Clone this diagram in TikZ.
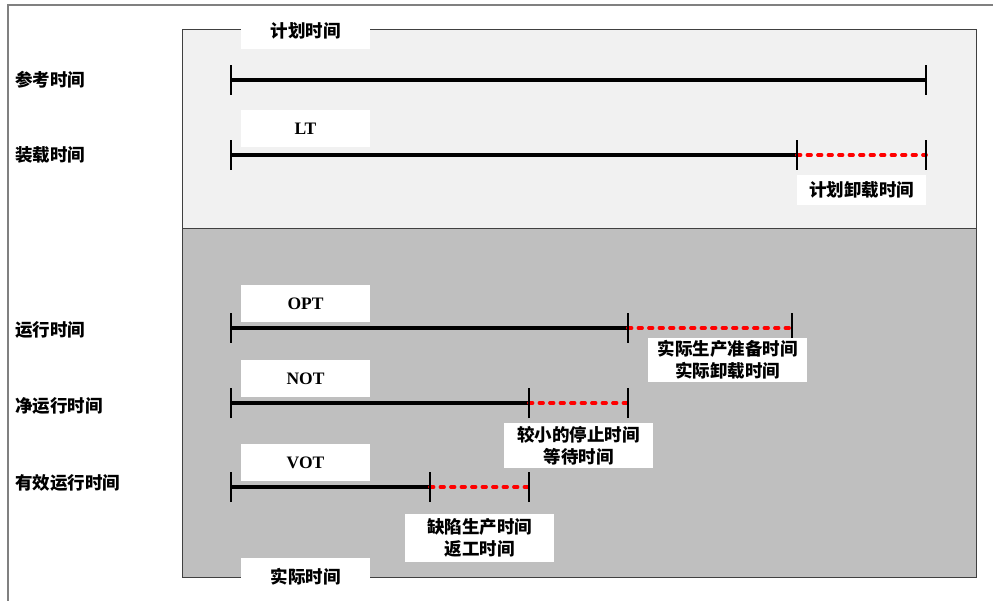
\documentclass[tikz,border=0pt]{standalone}
\usepackage{fontspec}
\setmainfont{Liberation Serif}
\newfontfamily\cjk{Noto Sans CJK SC}
\definecolor{topfill}{HTML}{F1F1F1}
\definecolor{botfill}{HTML}{BFBFBF}
\definecolor{frameline}{HTML}{808080}
\definecolor{boxline}{HTML}{404040}
\begin{document}
\begin{tikzpicture}[x=1pt,y=-1pt,
  cn/.style={font=\cjk\bfseries\fontsize{17.5}{22}\selectfont, inner sep=0pt, align=center},
  rowlbl/.style={cn, anchor=west},
  tagbox/.style={fill=white, inner sep=0pt, minimum width=129pt, minimum height=37pt, font=\bfseries\fontsize{17.5}{20}\selectfont},
  cntag/.style={cn, fill=white, minimum width=129pt, minimum height=37pt},
  notebox/.style={cn, fill=white},
  solidseg/.style={line width=3.8pt, black},
  dashseg/.style={line width=3.8pt, red, dash pattern=on 3.5pt off 7pt, line cap=round},
  tick/.style={line width=2pt, black},
  area/.style={draw=boxline, line width=1pt}
]
\useasboundingbox (0,0) rectangle (993,601);
% outer frame (top and left)
\coordinate (fbl) at (8,601);
\coordinate (ftl) at (8,5);
\coordinate (ftr) at (993,5);
\draw[frameline, line width=1.5pt] (fbl) -- (ftl) -- (ftr);
% areas
\draw[area, fill=topfill] (182,30) rectangle (976,229);
\draw[area, fill=botfill] (182,229) rectangle (976,577);

% tags
\node[cntag] (plan) at (305.5,30.5) {计划时间};
\node[tagbox] (lt) at (305.5,128.5) {LT};
\node[tagbox] (opt) at (305.5,303.5) {OPT};
\node[tagbox] (not) at (305.5,378.5) {NOT};
\node[tagbox] (vot) at (305.5,462.5) {VOT};
\node[cntag] (act) at (305.5,576.5) {实际时间};

% row labels
\node[rowlbl] (r1) at (15,80) {参考时间};
\node[rowlbl] (r2) at (15,155) {装载时间};
\node[rowlbl] (r3) at (15,330) {运行时间};
\node[rowlbl] (r4) at (15,405.5) {净运行时间};
\node[rowlbl] (r5) at (15,482.5) {有效运行时间};

% timeline points
\coordinate (a0) at (231,80);  \coordinate (a1) at (926,80);
\coordinate (b0) at (231,155); \coordinate (b1) at (797,155); \coordinate (b2) at (926,155);
\coordinate (c0) at (231,328); \coordinate (c1) at (628,328); \coordinate (c2) at (792,328);
\coordinate (d0) at (231,403); \coordinate (d1) at (529,403); \coordinate (d2) at (628,403);
\coordinate (e0) at (231,487); \coordinate (e1) at (430,487); \coordinate (e2) at (529,487);

% segments
\draw[solidseg] (a0) -- (a1);
\draw[solidseg] (b0) -- (b1); \draw[dashseg] (b1) -- (b2);
\draw[solidseg] (c0) -- (c1); \draw[dashseg] (c1) -- (c2);
\draw[solidseg] (d0) -- (d1); \draw[dashseg] (d1) -- (d2);
\draw[solidseg] (e0) -- (e1); \draw[dashseg] (e1) -- (e2);

% ticks
\foreach \p in {a0,a1,b0,b1,b2,c0,c1,c2,d0,d1,d2,e0,e1,e2}
  \draw[tick] ([yshift=-15pt]\p) -- ([yshift=15pt]\p);

% notes
\node[notebox, minimum width=129pt, minimum height=30pt] (n1) at (861.5,190) {计划卸载时间};
\node[notebox, minimum width=159pt, minimum height=44pt] (n2) at (727.5,360) {实际生产准备时间\\实际卸载时间};
\node[notebox, minimum width=149pt, minimum height=45pt] (n3) at (578.5,445.5) {较小的停止时间\\等待时间};
\node[notebox, minimum width=149pt, minimum height=48pt] (n4) at (479.5,538) {缺陷生产时间\\返工时间};
\end{tikzpicture}
\end{document}
